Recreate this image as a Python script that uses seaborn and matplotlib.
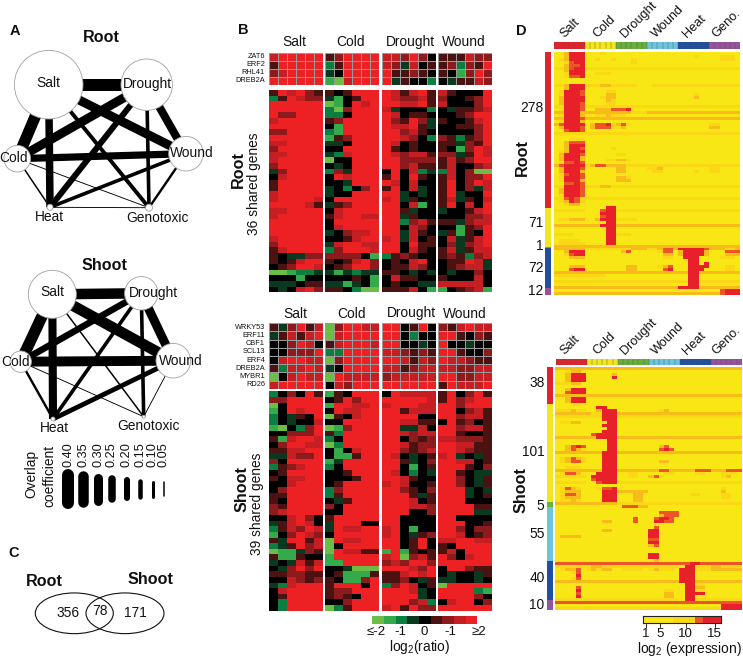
import numpy as np
import pandas as pd
import matplotlib
matplotlib.use('Agg')
import matplotlib.pyplot as plt
from matplotlib.colors import LinearSegmentedColormap, ListedColormap
from matplotlib.patches import Circle, Ellipse, Rectangle
import seaborn as sns

sns.set_style('white')
plt.rcParams['font.family'] = ['Liberation Sans', 'DejaVu Sans']
plt.rcParams['mathtext.default'] = 'regular'

W, H = 743, 658

# panel A: overlap coefficient for each pair of stresses
stress = ['Salt', 'Drought', 'Cold', 'Wound', 'Heat', 'Genotoxic']
pairs = [('Salt', 'Drought'), ('Salt', 'Cold'), ('Salt', 'Wound'), ('Drought', 'Cold'), ('Salt', 'Heat'),
         ('Cold', 'Wound'), ('Drought', 'Wound'), ('Drought', 'Heat'), ('Salt', 'Genotoxic'),
         ('Drought', 'Genotoxic'), ('Wound', 'Heat'), ('Cold', 'Heat'), ('Cold', 'Genotoxic'),
         ('Heat', 'Genotoxic'), ('Wound', 'Genotoxic')]
root_overlap = [.40, .38, .30, .30, .25, .24, .27, .20, .13, .12, .12, .05, .03, .03, .08]
shoot_overlap = [.35, .38, .36, .22, .27, .33, .30, .12, .05, .12, .16, .08, .03, 0, .03]
legend_coef = [.40, .35, .30, .25, .20, .15, .10, .05]

# panel C
venn_counts = [356, 78, 171]

# panel B: levels 0 (<=-2, green) .. 4 (0, black) .. 8 (>=2, red), columns salt cold drought wound
root_genes = ['ZAT6', 'ERF2', 'RHL41', 'DREB2A']
root_top = ['788888 568888 776864 555766', '588888 258888 763745 562658',
            '678888 348888 855654 541686', '888888 107888 835442 435576']
root_big = [
    '587865 545888 875785 754448', '258766 314588 876675 644568', '888888 014878 887785 744468',
    '888888 206888 734442 435567', '866888 224888 874554 445688', '788888 568888 865863 544578',
    '888888 418888 877853 445568', '668888 218888 886754 444468', '888888 156888 887642 652568',
    '778888 334888 874544 553658', '688888 448888 854544 541687', '778888 327888 876775 663587',
    '788888 044888 886666 575688', '688888 434888 886755 574467', '368888 263888 484723 274600',
    '478888 487888 584854 574668', '588888 443888 874744 584687', '588888 342468 584734 584637',
    '788888 344888 883434 583448', '788887 488888 783544 573547', '888875 356888 884714 584748',
    '778888 478888 885344 344578', '788888 578877 883544 444667', '888888 488888 882675 553677',
    '888888 478888 884764 441568', '888888 346778 883754 351548', '788888 445788 783745 473578',
    '688888 378877 884855 463678', '578888 268887 884754 573577', '543366 666641 256544 565267',
    '545788 545786 454784 455873', '456887 456886 455764 456773', '001223 313233 554343 434464',
    '444144 444541 475544 544474', '333455 331341 454433 777774', '434786 554200 555741 145671']
shoot_genes = ['WRKY53', 'ERF11', 'CBF1', 'SCL13', 'ERF4', 'DREB2A', 'MYBR1', 'RD26']
shoot_top = ['536857 068877 884584 657877', '357578 078888 884244 885465',
             '446874 578887 884434 844344', '446668 228888 776565 885446',
             '478877 068888 887576 877655', '527787 348888 775677 776677',
             '047877 087777 677777 886677', '788888 476888 888888 587778']
shoot_big = [
    '246485 154888 487777 584685', '668888 458688 888887 586788', '048888 188778 788877 886888',
    '148788 487788 885777 884675', '243548 054788 888844 886775', '243447 448888 887755 485645',
    '104268 016888 883374 886775', '446668 528888 887677 885445', '517887 248888 884656 776665',
    '468877 028888 887566 887755', '557788 414788 886567 887655', '337668 411588 874345 783435',
    '648888 138888 885346 887745', '256788 248888 884145 888546', '458888 445888 874243 885433',
    '547788 444588 887544 886435', '447888 458888 787445 886435', '468888 268888 886546 888343',
    '558888 258888 888535 888345', '548888 435888 888745 888444', '658888 648888 888776 888855',
    '678888 448888 888446 888833', '447864 588888 884444 884444', '357874 388844 884444 888445',
    '257687 387788 784144 886466', '146876 488888 784356 887456', '538857 087788 884584 778877',
    '235867 048888 884584 548888', '011365 087755 181545 574888', '511544 188888 780675 864788',
    '343757 118888 676886 888888', '436868 443000 888768 488655', '556655 451115 557878 434435',
    '447656 541168 556435 334434', '327888 588848 268745 088888', '478888 566888 888734 888821',
    '458888 565488 888834 888864', '428888 446888 888672 478846', '428888 025888 785866 888888']

# panel D: levels 0 (yellow) .. 4 (red), columns salt cold drought wound heat geno
root_expr = [
    '002444 000100 000000 000000 000000 000000', '002444 000000 000000 000000 000100 001110',
    '012444 001001 000100 000000 000000 001110', '001344 000000 000100 000000 000000 000000',
    '002334 000000 000000 000000 000000 000000', '112344 111111 111111 111111 111111 111111',
    '002444 000000 000000 000000 000000 000000', '001444 001110 000000 000000 000000 000000',
    '001334 000000 000000 000000 000000 000000', '000000 000000 000000 000000 000000 000000',
    '000000 000000 000000 000000 000000 000000', '112444 111221 111100 011111 111111 111111',
    '002444 000000 000000 000000 000000 000000', '014443 000011 000000 000000 000000 000000',
    '014443 000022 000000 000000 000100 000000', '024444 000122 000000 000000 000200 000000',
    '024444 000021 000000 000000 000000 000000', '024443 000011 000000 000000 000000 000000',
    '114443 111111 111111 111111 111111 111111', '014443 002223 334000 000000 000000 000000',
    '224442 222222 222111 222222 222222 222222', '014442 001121 110000 000000 000000 000000',
    '224443 222222 222222 222222 222222 222222', '014442 000000 000000 000000 000000 000000',
    '234444 023341 231000 000000 000000 110000', '024443 023331 120000 000000 000000 220000',
    '003443 000000 000000 000000 000000 000000', '111111 111111 111111 111111 111111 111111',
    '000000 000000 000000 000000 000000 000000', '000111 000000 000000 000000 000000 000000',
    '002333 000000 000000 000000 000000 000000', '002444 000000 000000 000000 000000 000000',
    '002443 000001 000000 000000 000000 000000', '012444 000000 000000 000000 000000 000000',
    '024443 000000 110000 000000 000000 000000', '024442 000000 000000 000000 000000 000000',
    '024442 000011 221000 000000 000000 000000', '013343 000000 000000 000000 000000 000000',
    '234444 123322 221111 111111 111111 111111', '024443 000000 220000 112000 000000 110000',
    '024442 000000 220000 011000 000100 110000', '013443 000000 000000 000000 000000 000000',
    '014443 000000 221000 000000 000000 000000', '014442 000000 222000 000000 000000 000000',
    '003343 000000 000000 000000 000000 000000', '114443 111221 111111 111111 111111 111111',
    '024443 000000 000000 000000 000000 000000', '024443 000000 000000 000000 000000 000000',
    '014443 000000 000000 000000 000000 000000', '113431 111111 111111 111111 111111 111111',
    '012431 000000 000000 000000 000000 000000', '001220 000000 000000 000000 000000 000000',
    '000000 000044 000000 000000 000000 000000', '111111 000344 111111 111111 111111 111111',
    '000000 000444 000000 000000 000000 000000', '000000 000344 000000 000000 000000 000000',
    '011222 002444 111100 000000 000000 000000', '000000 000044 000000 000000 000000 000000',
    '222222 222444 222222 222222 222222 222222', '000000 000044 000000 000000 000000 000000',
    '000000 000044 000000 000000 000000 000000', '111100 000044 111000 000000 000000 000000',
    '000000 000044 000000 000000 000000 000000', '011110 000044 000000 000000 000000 000000',
    '011111 000044 000000 000000 000000 000000', '222222 222222 222222 222222 222222 222222',
    '222222 111111 111222 112332 444443 222112', '002444 000000 023000 001330 244442 000333',
    '001344 000000 000000 000220 244442 000222', '000222 000000 000000 000110 044400 001110',
    '000000 000000 000000 000000 004400 000000', '000000 000000 000000 000000 004404 000000',
    '000222 000000 002200 001230 004444 000110', '000344 000000 002200 000340 004440 000110',
    '222222 222222 222222 222222 224422 222222', '111111 111100 000000 000000 004400 000000',
    '000000 000000 000000 000000 004400 000000', '111111 111111 111111 111111 114411 111111',
    '000000 000000 000000 000000 004400 000000', '222222 222222 222222 222222 444422 222222',
    '000000 000000 000000 000000 000000 003444', '222222 222222 222222 222222 222222 223444']
shoot_expr = [
    '222222 222222 222222 222222 222222 222222', '001220 000000 000000 000000 000000 000000',
    '002444 000002 000000 000000 000000 000000', '002444 000004 000000 000000 000000 000000',
    '002444 000000 000000 000000 000000 000000', '111220 000000 000000 000000 000000 000000',
    '000000 000000 000000 000000 000000 000000', '002444 000000 000000 000000 000000 000000',
    '003444 000000 000000 000000 000000 000000', '222222 222222 222222 222222 222222 222222',
    '002444 000000 000000 000000 000000 000000', '002444 000000 000000 000000 000000 000000',
    '000110 000000 000000 000000 000000 000000', '000000 004400 000000 000000 000000 000000',
    '111211 002444 000000 001200 000000 000000', '222222 211444 222222 222222 222222 222222',
    '111111 111444 111111 111111 111111 111111', '000000 000444 000000 000000 000000 000000',
    '011220 000044 000000 000000 000000 000000', '000000 000444 000000 000000 000000 000000',
    '000000 000044 000000 000000 000000 000000', '000000 000444 000000 000000 000000 000000',
    '000000 034444 000000 000000 000000 000000', '222222 224444 222222 222222 222222 222222',
    '000000 000044 000000 000000 000000 000000', '000000 000044 000000 000000 000000 000000',
    '002343 000044 000000 002300 000000 000000', '002321 000044 000000 003430 000000 000000',
    '222222 222444 222222 222222 222222 222222', '000000 000444 000000 000000 000000 000000',
    '012321 000444 000000 000000 000000 000000', '012331 000444 000000 002200 000000 000000',
    '000000 000444 000000 000000 000000 000000', '001110 000444 000000 000000 000000 000000',
    '222222 222444 222222 223322 222333 222333', '013320 004444 001100 000110 000110 001110',
    '111111 044444 001100 231000 000000 001200', '000000 034444 000000 000000 000000 000000',
    '111111 003444 111111 111111 111111 111111', '000000 000000 000000 000000 000000 000000',
    '013210 001334 000000 000000 000000 001000', '012220 000444 222222 000000 000000 002000',
    '013320 000444 000220 000000 001100 001100', '012220 000444 000220 000000 000000 001100',
    '011210 000444 000220 000000 000000 000000', '222222 222222 111111 111111 111111 111111',
    '000000 000000 033322 000000 000000 000000', '000000 000000 000000 000000 000000 000000',
    '000000 000000 000000 003333 000000 000000', '000000 000000 000000 002333 000000 000000',
    '000000 000000 000300 034430 000000 000000', '000000 000220 000300 044330 000000 000000',
    '000000 000000 000000 000000 000000 000000', '000000 000000 000000 030000 000000 000000',
    '000000 000220 000000 440000 000000 000000', '000000 000000 000000 440000 000000 000000',
    '022220 000000 000000 440000 000000 000000', '000000 000000 000000 330000 000000 000000',
    '000000 000000 000000 440000 000000 000000', '000000 000000 000000 230000 000000 000000',
    '000000 000000 000000 000000 000000 000000', '000000 000000 000000 000000 000000 000000',
    '000000 000000 000000 440000 000000 000000', '000000 000000 000000 440000 000000 000000',
    '000000 000000 000000 020000 000000 000000', '333333 333333 333333 333333 334433 333333',
    '111111 122111 111111 111111 044111 221111', '012230 121220 011110 121110 444111 222222',
    '000130 000000 000000 000000 444000 000000', '000040 000000 000000 000000 444000 000000',
    '000130 000000 000000 000000 444000 000000', '222222 222222 222222 222222 444222 222222',
    '000000 000000 000000 000000 044110 000000', '000030 000000 000000 000000 044220 000000',
    '000040 000000 000000 000110 044110 000000', '000030 000000 000000 000220 044440 000000',
    '000040 000000 000000 000220 044000 000000', '111111 111111 111111 111111 044111 111111',
    '333333 333333 333333 333333 333333 333333', '000000 000000 000000 000000 000000 004444',
    '111111 111111 111111 111111 111111 114444']

root_blocks = [278, 71, 1, 72, 12]
shoot_blocks = [38, 101, 5, 55, 40, 10]
expr_conditions = ['Salt', 'Cold', 'Drought', 'Wound', 'Heat', 'Geno.']
ratio_conditions = ['Salt', 'Cold', 'Drought', 'Wound']
ratio_scale = [0, 1, 2, 3, 4, 5, 6, 7, 8]
expr_scale = [0, 0, 0, 0, 0, 0, 0, 1, 1, 1, 1, 1, 3, 3, 4, 4, 4, 4]

red, yellow, green, lblue, blue, purple = '#e1242b', '#f3e61f', '#6aae3c', '#6cc5dc', '#1f4f9e', '#96529b'
ratio_cmap = LinearSegmentedColormap.from_list('ratio', ['#6cbd45', '#35aa4a', '#0c8040', '#0b3a20', '#000000',
                                                         '#4a1212', '#8c1a1c', '#c41f24', '#ed2024'])
expr_cmap = ListedColormap(['#f9e715', '#fbd816', '#f8bc1a', '#ed5526', '#e8202a'])


def parse(rows):
    return pd.DataFrame([[int(c) for c in r.replace(' ', '')] for r in rows])


def pixel_axes(x0, y0, x1, y1):
    return fig.add_axes([x0 / W, 1 - y1 / H, (x1 - x0) / W, (y1 - y0) / H])


def draw_heat(data, box, cmap, vmax, **kw):
    a = pixel_axes(*box)
    sns.heatmap(data, ax=a, cmap=cmap, vmin=0, vmax=vmax, cbar=False, xticklabels=False, yticklabels=False, **kw)
    return a


def draw_strip(values, colors, box, horizontal=True):
    frame = pd.DataFrame([values]) if horizontal else pd.DataFrame(values)
    return draw_heat(frame, box, ListedColormap(colors), len(colors) - 1)


fig = plt.figure(figsize=(W / 100, H / 100), dpi=100, facecolor='white')
ax = fig.add_axes([0, 0, 1, 1], zorder=5)
ax.set_xlim(0, W)
ax.set_ylim(H, 0)
ax.axis('off')
ax.patch.set_alpha(0)

def label(x, y, s, size=9.9, bold=False, rot=0, ha='center', va='center', **kw):
    ax.text(x, y, s, fontsize=size, fontweight='bold' if bold else 'normal', rotation=rot, ha=ha, va=va,
            color='#111111', **kw)


# panel A networks
root_nodes = {'Salt': (48.7, 84.7, 34.3), 'Drought': (146.7, 84.7, 25.7), 'Cold': (17.3, 158.7, 13.3),
              'Wound': (186, 153.7, 17.3), 'Heat': (50, 207.3, 3), 'Genotoxic': (149, 207.7, 3.5)}
shoot_nodes = {'Salt': (52.3, 294.3, 24), 'Drought': (141.3, 293.3, 16.7), 'Cold': (20.7, 361.7, 10.7),
               'Wound': (173.3, 360.7, 17.3), 'Heat': (53, 419, 2), 'Genotoxic': (143.7, 416.7, 1.5)}


def draw_network(nodes, overlap):
    for (a, b), c in zip(pairs, overlap):
        if c > 0:
            ax.plot([nodes[a][0], nodes[b][0]], [nodes[a][1], nodes[b][1]], color='black',
                    lw=c * 30 * 0.72, solid_capstyle='butt', zorder=1)
    for n in stress:
        x, y, r = nodes[n]
        ax.add_patch(Circle((x, y), r, fc='white', ec='#a0a0a0', lw=0.6, zorder=2))


draw_network(root_nodes, root_overlap)
draw_network(shoot_nodes, shoot_overlap)
for (s, x, y) in [('Salt', 48, 83), ('Drought', 147, 84), ('Cold', 14, 158), ('Wound', 192, 153),
                  ('Heat', 49.5, 217), ('Genotoxic', 157, 218)]:
    label(x, y, s, zorder=3)
for (s, x, y) in [('Salt', 52, 292), ('Drought', 153, 293), ('Cold', 15, 362), ('Wound', 181, 361),
                  ('Heat', 54, 428), ('Genotoxic', 148, 426)]:
    label(x, y, s, zorder=3)
label(14.5, 31, 'A', 10.5, True)
label(101, 38, 'Root', 11.6, True)
label(105, 266, 'Shoot', 11.6, True)

# overlap legend
legend_x = [68, 83.3, 98, 111.7, 127, 140.3, 152.7, 163.7]
legend_h = [40, 36, 32, 28, 24, 21, 18, 16]
for cx, coef, h in zip(legend_x, legend_coef, legend_h):
    w = coef * 30
    ax.plot([cx, cx], [489 - h / 2 + w / 2, 489 + h / 2 - w / 2], color='black', lw=w * 0.72, solid_capstyle='round')
    label(cx, 467, f'{coef:.2f}', 9.2, rot=90, va='bottom')
label(31, 474, 'Overlap', 9.9, rot=90)
label(49, 476, 'coefficient', 9.9, rot=90)

# panel C
label(14, 553, 'C', 10.5, True)
label(44, 581, 'Root', 11.6, True)
label(151, 580, 'Shoot', 11.6, True)
for cx in (74.3, 125):
    ax.add_patch(Ellipse((cx, 613.3), 78, 40.7, fc='none', ec='#111111', lw=0.8))
for v, x, y in zip(venn_counts, (68, 100, 135), (613, 611, 613)):
    label(x, y, str(v))

# panel B
label(243.5, 30, 'B', 10.5, True)
group_x = [(268.5, 323), (325, 379), (381.5, 435.5), (437.8, 492)]
for name, x in zip(ratio_conditions, (294, 350.7, 410, 463.7)):
    label(x, 42, name)
    label(x + 1, 313.5, name)

for top_rows, big_rows, genes, top_y, big_y in [(root_top, root_big, root_genes, (52.7, 85), (90, 292.3)),
                                                 (shoot_top, shoot_big, shoot_genes, (323.3, 388.7), (391.3, 610.7))]:
    top, big = parse(top_rows), parse(big_rows)
    for g, (x0, x1) in enumerate(group_x):
        cols = list(range(g * 6, g * 6 + 6))
        draw_heat(top[cols], (x0, top_y[0], x1, top_y[1]), ratio_cmap, 8, linewidths=0.7, linecolor='#9a9a9a')
        draw_heat(big[cols], (x0, big_y[0], x1, big_y[1]), ratio_cmap, 8)
    step = (top_y[1] - top_y[0]) / len(genes)
    for i, g in enumerate(genes):
        label(265, top_y[0] + step * (i + .5), g, 5.3, ha='right')

label(238, 170, 'Root', 11.6, True, rot=90)
label(254, 183.5, '36 shared genes', 9.9, rot=90)
label(242, 489, 'Shoot', 11.6, True, rot=90)
label(257, 504, '39 shared genes', 9.9, rot=90)

draw_strip(ratio_scale, ratio_cmap(np.linspace(0, 1, 9)), (372.3, 616, 477.3, 624))
for s, x in zip(['≤-2', '-1', '0', '-1', '≥2'], (375.7, 400.7, 423.7, 450.7, 479)):
    label(x, 632, s, 9.5)
label(420, 647.5, 'log$_2$(ratio)', 9.9)

# panel D
label(521, 31, 'D', 10.5, True)
d_colors = [red, yellow, green, lblue, blue, purple]
for top_box, heat_box, rows, strip_box, blocks, cols, lab_x, lab_y, rot_y in [
    ((553.7, 42, 740.3, 49), (553.7, 51.7, 740.3, 295), root_expr, (545, 51.7, 550.7, 295),
     root_blocks, [red, yellow, green, blue, purple], 543.5, (108.3, 222.7, 246, 268.3, 290.7), 40),
    ((555.7, 358.7, 741.7, 365), (555, 366.7, 741.7, 610), shoot_expr, (547.3, 366.7, 553, 610),
     shoot_blocks, [red, yellow, green, lblue, blue, purple], 544.5, (383.3, 451.7, 505.7, 534, 577.7, 605.3), 357)]:
    draw_heat(parse(rows), heat_box, expr_cmap, 4)
    cond = [c for c in range(6) for _ in range(6)]
    draw_strip(cond, d_colors, top_box)
    a = fig.axes[-1]
    for v in range(0, 37):
        a.axvline(v, color='#555555', lw=0.3)
    # left strip: spans as drawn in the source, not to scale with the counts
    spans = {278: 156, 71: 39.5, 1: .5, 72: 40.6, 12: 6.7, 38: 37.6, 101: 98, 5: 5, 55: 53.7, 40: 39, 10: 10}
    y = strip_box[1]
    for n, c in zip(blocks, cols):
        ax.add_patch(Rectangle((strip_box[0], y), strip_box[2] - strip_box[0], spans[n], fc=c, ec='none'))
        y += spans[n]
    for n, ly in zip(blocks, lab_y):
        label(lab_x, ly, str(n), ha='right')
    for name, sx in zip(expr_conditions, (559, 591.7, 619, 650, 681.3, 710.3)):
        label(sx + 8, rot_y, name, 9.2, rot=45, ha='left', va='bottom', rotation_mode='anchor')

label(522, 157, 'Root', 11.6, True, rot=90)
label(521, 490, 'Shoot', 11.6, True, rot=90)

a = draw_strip(expr_scale, list(expr_cmap.colors), (642.7, 615.7, 720.7, 622.7))
for sp in a.spines.values():
    sp.set_visible(True)
    sp.set_color('#222222')
    sp.set_linewidth(0.8)
for tick, x in zip(('1', '5', '10', '15'), (645.5, 660, 685.7, 714.5)):
    ax.plot([x, x], [622.7, 627], color='#222222', lw=0.7)
    label(x, 634, tick, 9.5)
label(689, 648.5, 'log$_2$ (expression)', 9.9)

fig.savefig('out.png', dpi=100)
